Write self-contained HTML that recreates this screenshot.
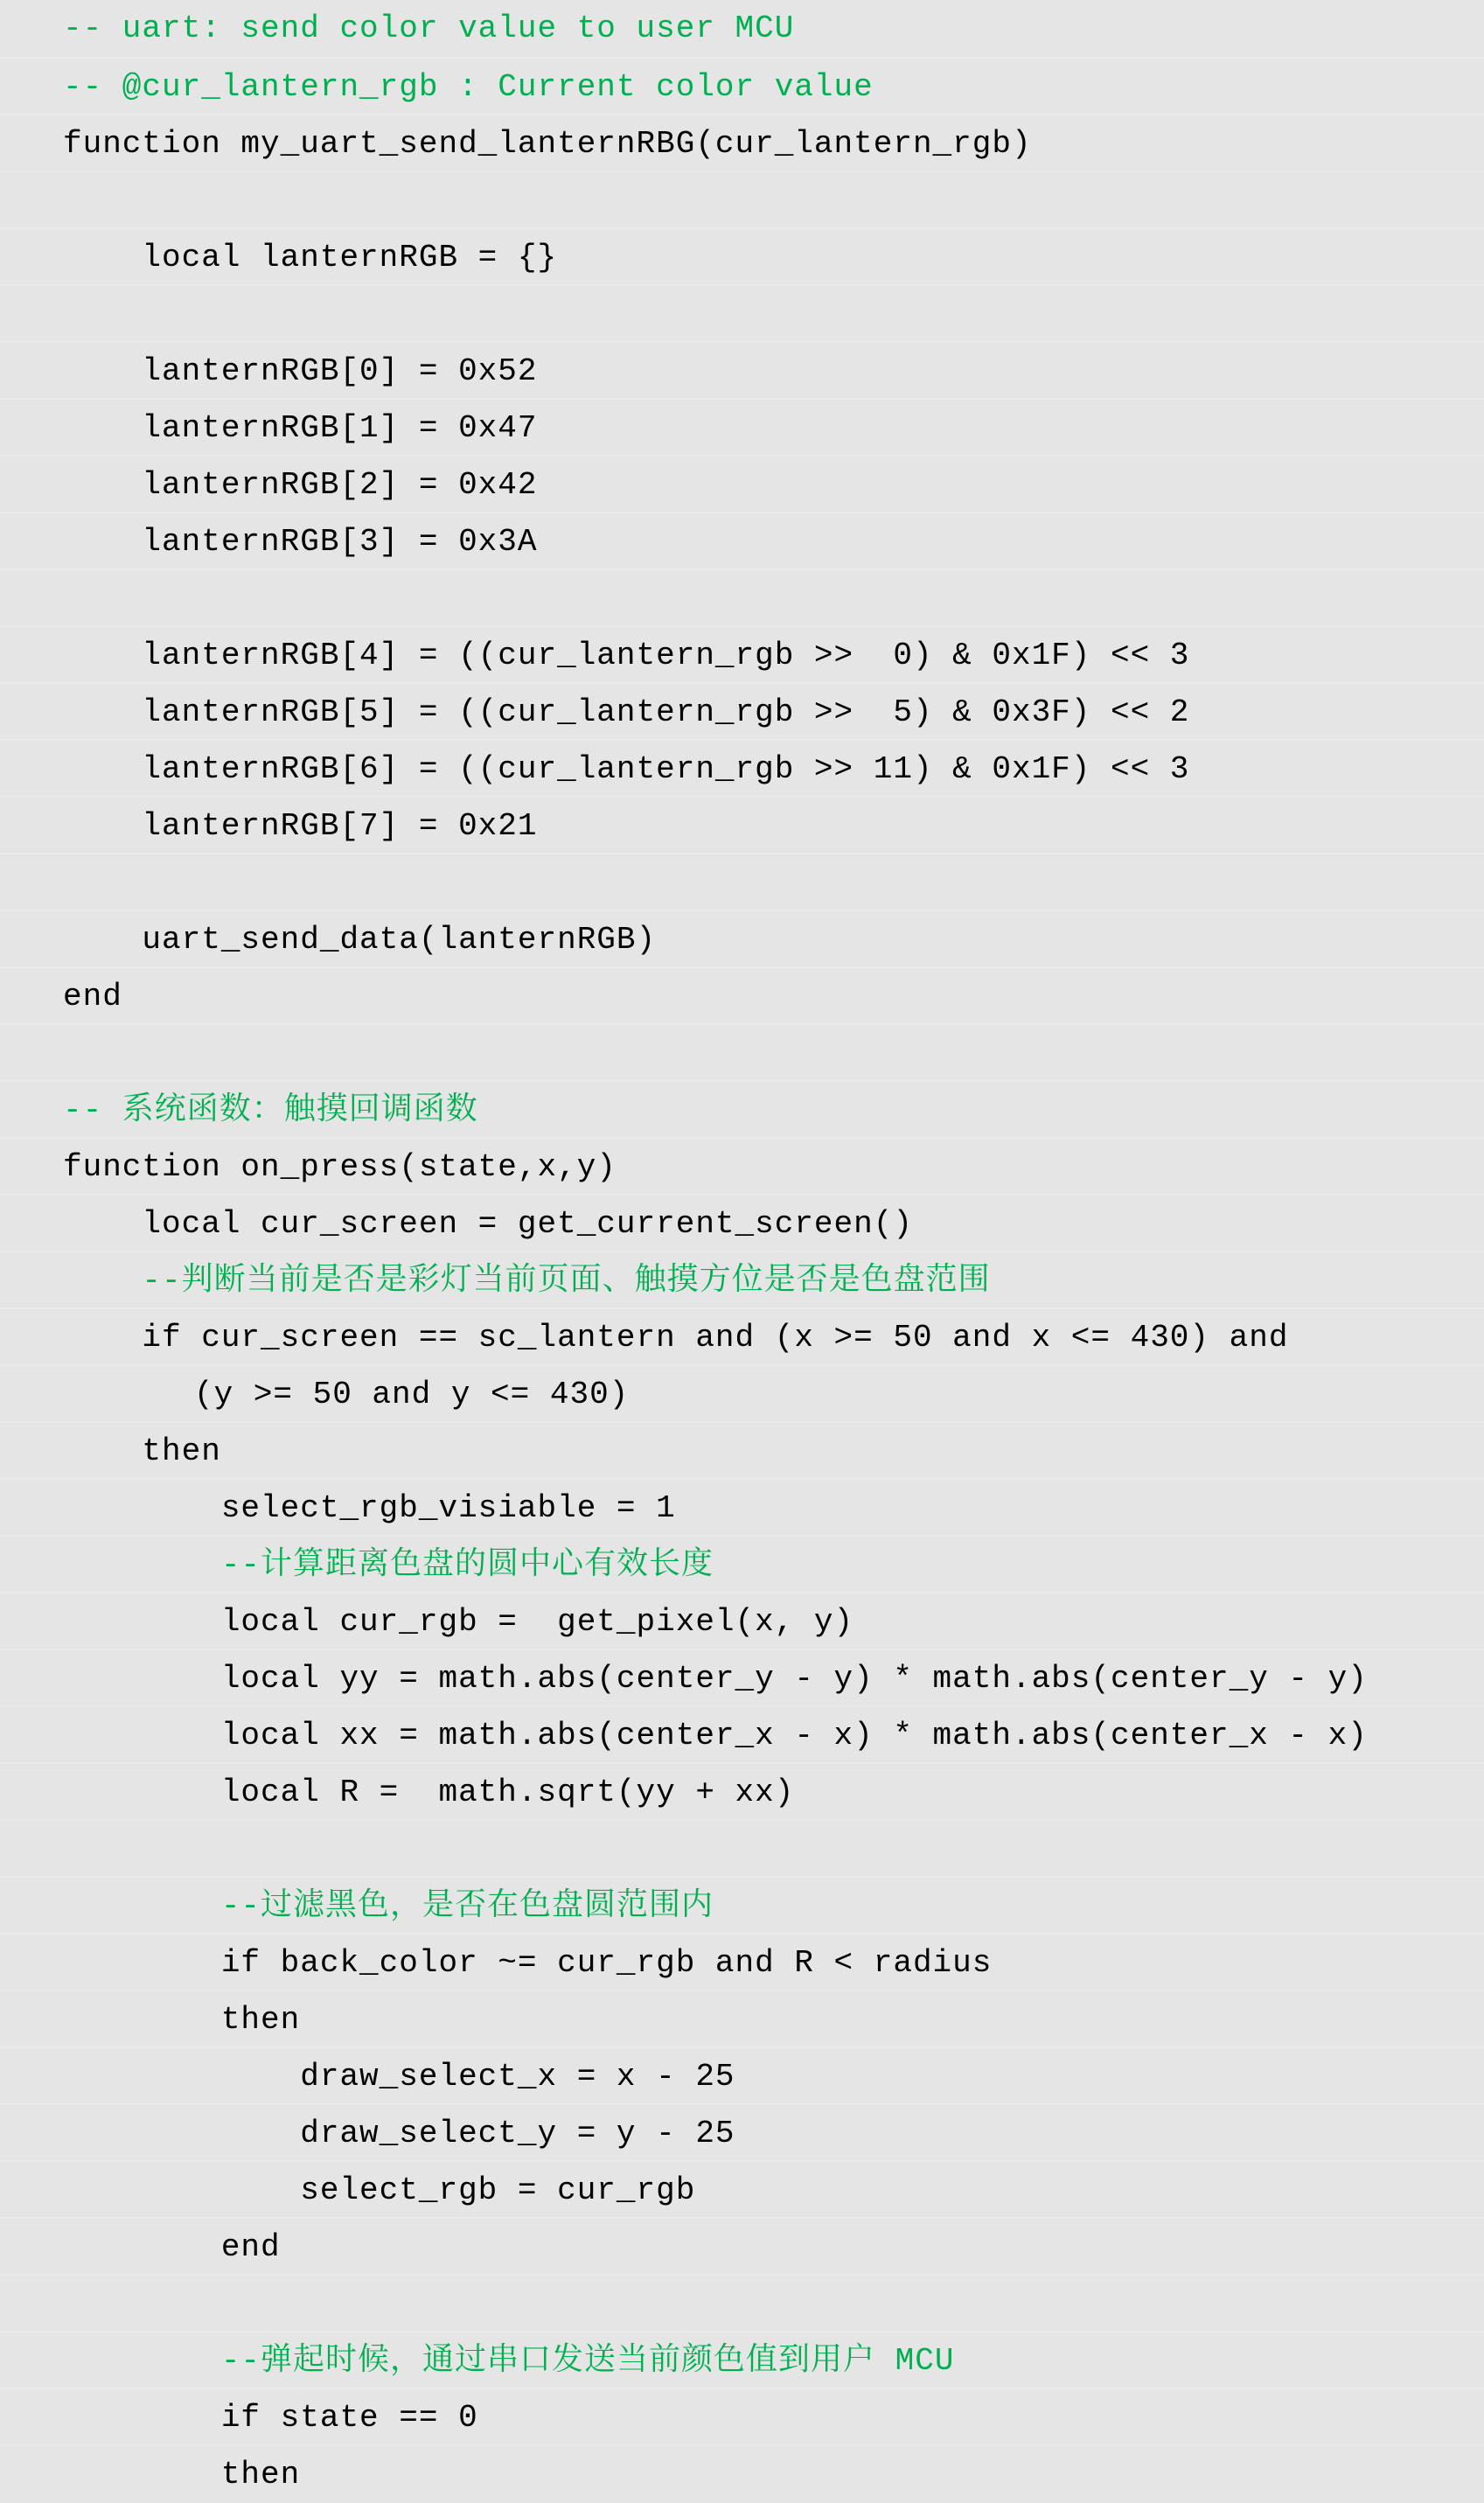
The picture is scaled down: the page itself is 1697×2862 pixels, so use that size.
<!DOCTYPE html>
<html><head><meta charset="utf-8"><style>
html,body{margin:0;padding:0;}
body{width:1697px;height:2849px;background:#e5e5e5;overflow:hidden;}
.r{height:63px;line-height:65px;border-top:2px solid #e9e9e9;padding-left:72px;white-space:pre;font-family:"Liberation Mono","Noto Sans CJK SC",monospace;font-size:36px;letter-spacing:1px;color:#000;}
.r:first-child{border-top:none;height:65px;}
.g{color:#00b050;}
.c{font-family:"Liberation Mono","Noto Serif CJK SC",serif;}
</style></head><body>
<div class="r g">-- uart: send color value to user MCU</div>
<div class="r g">-- @cur_lantern_rgb : Current color value</div>
<div class="r">function my_uart_send_lanternRBG(cur_lantern_rgb)</div>
<div class="r"></div>
<div class="r">    local lanternRGB = {}</div>
<div class="r"></div>
<div class="r">    lanternRGB[0] = 0x52</div>
<div class="r">    lanternRGB[1] = 0x47</div>
<div class="r">    lanternRGB[2] = 0x42</div>
<div class="r">    lanternRGB[3] = 0x3A</div>
<div class="r"></div>
<div class="r">    lanternRGB[4] = ((cur_lantern_rgb &gt;&gt;  0) &amp; 0x1F) &lt;&lt; 3</div>
<div class="r">    lanternRGB[5] = ((cur_lantern_rgb &gt;&gt;  5) &amp; 0x3F) &lt;&lt; 2</div>
<div class="r">    lanternRGB[6] = ((cur_lantern_rgb &gt;&gt; 11) &amp; 0x1F) &lt;&lt; 3</div>
<div class="r">    lanternRGB[7] = 0x21</div>
<div class="r"></div>
<div class="r">    uart_send_data(lanternRGB)</div>
<div class="r">end</div>
<div class="r"></div>
<div class="r g c">-- 系统函数：触摸回调函数</div>
<div class="r">function on_press(state,x,y)</div>
<div class="r">    local cur_screen = get_current_screen()</div>
<div class="r g c">    --判断当前是否是彩灯当前页面、触摸方位是否是色盘范围</div>
<div class="r">    if cur_screen == sc_lantern and (x &gt;= 50 and x &lt;= 430) and</div>
<div class="r" style="padding-left:222px">(y &gt;= 50 and y &lt;= 430)</div>
<div class="r">    then</div>
<div class="r">        select_rgb_visiable = 1</div>
<div class="r g c">        --计算距离色盘的圆中心有效长度</div>
<div class="r">        local cur_rgb =  get_pixel(x, y)</div>
<div class="r">        local yy = math.abs(center_y - y) * math.abs(center_y - y)</div>
<div class="r">        local xx = math.abs(center_x - x) * math.abs(center_x - x)</div>
<div class="r">        local R =  math.sqrt(yy + xx)</div>
<div class="r"></div>
<div class="r g c">        --过滤黑色，是否在色盘圆范围内</div>
<div class="r">        if back_color ~= cur_rgb and R &lt; radius</div>
<div class="r">        then</div>
<div class="r">            draw_select_x = x - 25</div>
<div class="r">            draw_select_y = y - 25</div>
<div class="r">            select_rgb = cur_rgb</div>
<div class="r">        end</div>
<div class="r"></div>
<div class="r g c">        --弹起时候，通过串口发送当前颜色值到用户 MCU</div>
<div class="r">        if state == 0</div>
<div class="r">        then</div>
</body></html>
